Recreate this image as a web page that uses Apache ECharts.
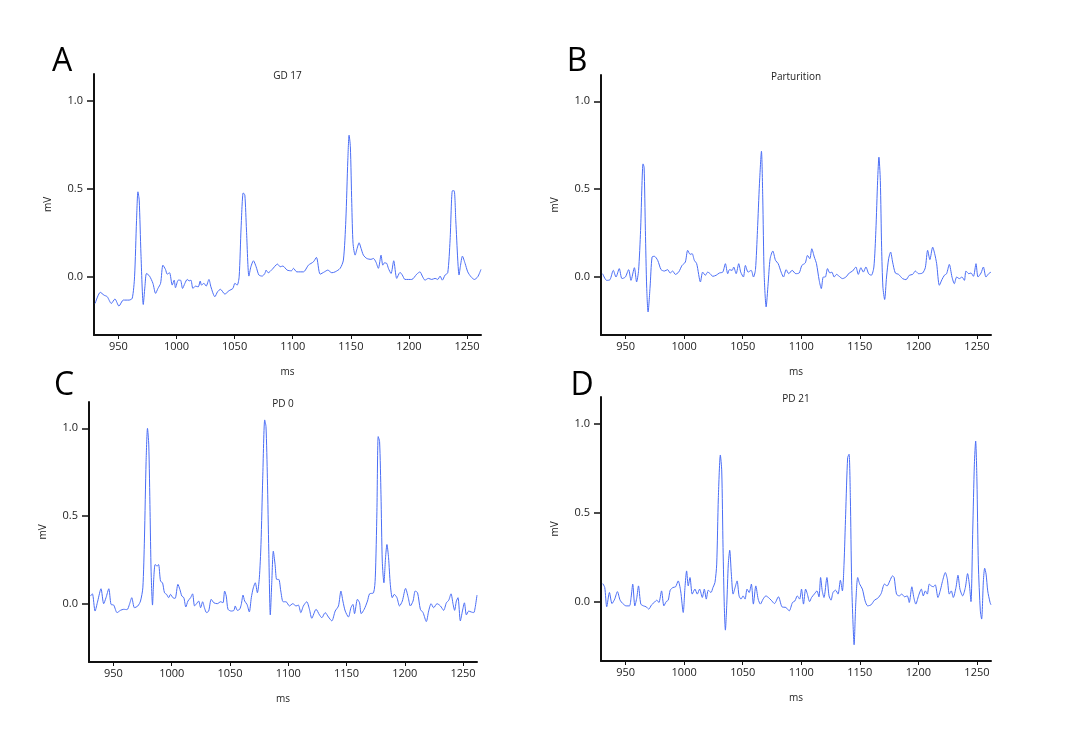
<!DOCTYPE html>
<html>
<head>
<meta charset="utf-8">
<title>ECG traces</title>
<script src="https://cdn.jsdelivr.net/npm/echarts@6/dist/echarts.min.js"></script>
<style>
  html, body { margin: 0; padding: 0; background: #fff; }
  #chart { width: 1071px; height: 735px; }
</style>
</head>
<body>
<div id="chart"></div>
<script>
// [ms, mV] samples
const gd17 = [
  [930, -0.151], [934.4, -0.088], [937.6, -0.104], [940.4, -0.113], [943.9, -0.151], [947, -0.126],
  [950.5, -0.166], [954.2, -0.132], [959.1, -0.132], [961.9, -0.122], [963.9, 0.0], [965.6, 0.32],
  [966.8, 0.482], [967.9, 0.435], [969.4, 0.13], [971.4, -0.157], [972.8, -0.057], [974.2, 0.019],
  [976.8, 0.004], [979.7, -0.037], [982, -0.094], [984, -0.066], [986.3, -0.037], [988.3, 0.066],
  [990.5, 0.042], [992, 0.015], [994, 0.023], [996.3, -0.047], [998, -0.019], [999.1, -0.062],
  [1001.5, -0.019], [1003.4, -0.019], [1005.2, -0.066], [1007.2, -0.037], [1009.2, -0.015], [1010.9, -0.023],
  [1012.4, -0.019], [1014.1, -0.066], [1016.3, -0.053], [1018.7, -0.057], [1020.4, -0.024], [1021.5, -0.047],
  [1023.6, -0.037], [1025.5, -0.053], [1027.9, -0.015], [1029.6, -0.057], [1033, -0.113], [1035.3, -0.085],
  [1037.8, -0.071], [1041.6, -0.098], [1045.1, -0.079], [1048.5, -0.066], [1050.2, -0.037], [1052.2, -0.047],
  [1053.9, 0.0], [1055.6, 0.283], [1057.4, 0.476], [1058.8, 0.463], [1060.2, 0.265], [1062.3, 0.004],
  [1064, 0.057], [1066.2, 0.091], [1068.5, 0.057], [1070.9, 0.01], [1073.7, 0.004], [1076, 0.019],
  [1077.1, 0.038], [1078.9, 0.023], [1082.3, 0.042], [1086.9, 0.072], [1089.2, 0.057], [1091.5, 0.061],
  [1095.2, 0.038], [1098.9, 0.034], [1100.6, 0.048], [1103.5, 0.028], [1109.2, 0.028], [1113.5, 0.066],
  [1117.8, 0.085], [1120.4, 0.11], [1123.6, 0.015], [1127.3, 0.028], [1130.2, 0.038], [1133.6, 0.023],
  [1136.5, 0.028], [1140.8, 0.048], [1143.6, 0.095], [1145.7, 0.321], [1147.4, 0.661], [1148.5, 0.803],
  [1149.6, 0.737], [1150.8, 0.416], [1151.9, 0.189], [1153.7, 0.123], [1155.4, 0.161], [1157.1, 0.193],
  [1158.8, 0.161], [1160.8, 0.123], [1163.7, 0.104], [1167.4, 0.099], [1169.4, 0.104], [1171.5, 0.085],
  [1173.7, 0.048], [1176, 0.123], [1177.5, 0.066], [1178.9, 0.079], [1180.9, 0.076], [1182.3, 0.048],
  [1184.6, 0.019], [1186.9, 0.091], [1189.5, -0.009], [1192.3, 0.025], [1194.3, 0.01], [1196.6, -0.015],
  [1202.4, -0.015], [1206.7, 0.015], [1209.5, 0.028], [1211.5, 0.004], [1213.8, -0.019], [1216.7, -0.009],
  [1219.6, -0.015], [1222.5, -0.009], [1224.8, -0.015], [1226.8, 0.004], [1228.7, -0.019], [1231.1, 0.01],
  [1233.4, 0.023], [1235.4, 0.208], [1237.4, 0.488], [1238.9, 0.488], [1240.3, 0.321], [1242, 0.095],
  [1243.1, 0.01], [1244.2, 0.057], [1246, 0.117], [1248.3, 0.076], [1250.6, 0.028], [1253.4, 0.0],
  [1256.3, -0.015], [1259.2, 0.0], [1262, 0.042]
];

const parturition = [
  [930.4, 0.019], [933.8, -0.019], [936.7, -0.015], [939.5, 0.038], [941.8, 0.0], [944.6, 0.048],
  [946.9, -0.009], [949.8, 0.0], [952.6, 0.042], [954.6, -0.019], [957.5, 0.053], [959.4, -0.028],
  [961.1, 0.038], [962.8, 0.265], [964.9, 0.644], [965.8, 0.625], [966.9, 0.265], [968, -0.057],
  [969.2, -0.199], [970.9, -0.057], [972.6, 0.114], [974.6, 0.118], [977.4, 0.095], [980.3, 0.042],
  [983.1, 0.034], [985.9, 0.042], [988, 0.023], [990.2, 0.034], [992.5, 0.015], [995.3, 0.028],
  [998.2, 0.066], [1001, 0.085], [1003, 0.152], [1005.1, 0.129], [1006.8, 0.133], [1008.7, 0.095],
  [1010.7, 0.076], [1013.9, -0.028], [1015.8, 0.028], [1018.1, 0.01], [1020.1, 0.028], [1022.2, 0.019],
  [1024.4, 0.004], [1027.3, 0.01], [1030.1, 0.023], [1033, 0.028], [1035.2, 0.076], [1037.2, 0.019],
  [1038.7, 0.042], [1041, 0.038], [1042.3, 0.057], [1044.4, 0.019], [1046.6, 0.076], [1048.3, 0.028],
  [1050.6, 0.0], [1052.3, 0.066], [1054.6, 0.028], [1057.2, 0.038], [1059.2, 0.0], [1060.9, 0.042],
  [1062.6, 0.265], [1064.3, 0.531], [1066, 0.716], [1067.1, 0.455], [1068.3, 0.019], [1070, -0.17],
  [1071.7, -0.038], [1073.4, 0.104], [1075.7, 0.148], [1078, 0.095], [1080.3, 0.076], [1082.8, 0.028],
  [1084.8, 0.0], [1087.1, 0.042], [1089.3, 0.019], [1092.2, 0.038], [1095.3, 0.019], [1098.2, 0.023],
  [1100.5, 0.066], [1103.4, 0.08], [1105.3, 0.123], [1107.3, 0.104], [1109, 0.161], [1111.1, 0.114],
  [1113, 0.076], [1115.3, -0.019], [1117.1, -0.066], [1118.8, 0.0], [1120.5, 0.0], [1122.4, 0.048],
  [1124.4, 0.023], [1126.1, 0.028], [1128.1, 0.0], [1130.1, 0.015], [1132.4, 0.004], [1135.2, -0.009],
  [1138.1, 0.0], [1141, 0.023], [1143.8, 0.034], [1146.6, 0.057], [1148.7, 0.015], [1150.9, 0.053],
  [1153, 0.028], [1155.2, 0.057], [1157.5, 0.019], [1159.8, 0.01], [1162, 0.057], [1163.7, 0.265],
  [1165.2, 0.549], [1166.3, 0.682], [1167.5, 0.549], [1168.6, 0.17], [1169.7, -0.057], [1171.2, -0.128],
  [1172.8, 0.0], [1174.6, 0.104], [1176.3, 0.142], [1178, 0.085], [1180.3, 0.023], [1183.1, 0.015],
  [1186.5, -0.009], [1189.4, -0.015], [1192.3, 0.01], [1195.1, 0.015], [1197.4, 0.034], [1200.2, 0.019],
  [1203.6, 0.023], [1205.9, 0.053], [1207.9, 0.152], [1209.8, 0.099], [1212.2, 0.17], [1213.9, 0.133],
  [1215.6, 0.076], [1217.9, -0.047], [1220.1, -0.015], [1222.2, 0.01], [1224.1, 0.019], [1226.4, 0.072],
  [1228.7, 0.0], [1230.7, -0.038], [1232.7, 0.0], [1235, -0.009], [1237.2, 0.0], [1239.3, -0.019],
  [1240.6, 0.034], [1243, 0.019], [1244.9, 0.023], [1247, 0.004], [1249.2, 0.076], [1250.9, 0.0],
  [1253.5, 0.023], [1255.5, 0.057], [1257.7, 0.0], [1260, 0.019], [1262, 0.028]
];

const pd0 = [
  [930.2, 0.045], [931.9, 0.058], [934.2, -0.04], [936.5, 0.017], [939.3, 0.087], [941.6, 0.002],
  [943.6, 0.036], [946, 0.087], [947.9, -0.002], [950.2, -0.006], [953.1, -0.049], [956, -0.036],
  [958.8, -0.03], [961.7, -0.032], [963.7, -0.002], [965.7, 0.036], [968, -0.021], [970.9, -0.011],
  [973.2, 0.017], [975.2, 0.092], [976.6, 0.376], [978, 0.811], [979.2, 1.0], [980.3, 0.906],
  [981.4, 0.527], [982.3, 0.187], [983.5, -0.006], [984.6, 0.149], [985.8, 0.225], [987.5, 0.216],
  [988.7, 0.225], [990.4, 0.13], [992.1, 0.121], [993.8, 0.064], [995.6, 0.055], [997.3, 0.036],
  [999, 0.055], [1001, 0.036], [1002.9, 0.032], [1005.3, 0.112], [1007, 0.083], [1008.7, 0.045],
  [1010.4, 0.036], [1012.1, -0.017], [1013.9, 0.017], [1016.2, 0.036], [1017.9, 0.058], [1019.6, -0.011],
  [1021.3, 0.002], [1023.1, 0.017], [1024.8, -0.021], [1026.5, 0.013], [1028.2, -0.024], [1029.9, -0.049],
  [1031.7, -0.04], [1033.9, 0.027], [1036.2, 0.007], [1039.1, 0.002], [1042, 0.013], [1044, 0.007],
  [1045.4, 0.074], [1046.8, 0.045], [1048.3, -0.03], [1051.1, -0.04], [1053.4, -0.036], [1054.5, -0.011],
  [1056.3, -0.036], [1058.3, -0.03], [1059.7, -0.002], [1061.2, 0.051], [1062.6, 0.017], [1064.6, -0.002],
  [1066.6, -0.045], [1068.3, 0.036], [1070, 0.092], [1071.7, 0.121], [1073.5, 0.064], [1075.2, 0.149],
  [1076.6, 0.339], [1078.1, 0.716], [1079.8, 1.048], [1080.9, 1.01], [1082.1, 0.716], [1083.3, 0.301],
  [1084.6, -0.062], [1085.8, 0.112], [1087.2, 0.301], [1088.7, 0.225], [1090.1, 0.14], [1091.9, 0.14],
  [1093.6, 0.074], [1095.6, 0.013], [1098.1, 0.013], [1101, -0.011], [1103.9, 0.002], [1106.7, -0.011],
  [1108.7, -0.006], [1110.8, -0.049], [1113, -0.011], [1115.9, 0.013], [1118.2, -0.03], [1120.2, -0.081],
  [1123.9, -0.03], [1126.8, -0.062], [1128.8, -0.078], [1131.7, -0.049], [1134.5, -0.074], [1137.4, -0.096],
  [1140.3, -0.04], [1143.1, -0.011], [1145.2, 0.074], [1146.9, 0.017], [1148.9, -0.04], [1151.7, -0.074],
  [1153.8, -0.021], [1155.5, -0.002], [1156.9, -0.055], [1159.4, 0.027], [1161.2, 0.007], [1162.6, -0.055],
  [1165.2, -0.03], [1168, 0.017], [1169.8, 0.058], [1173.2, 0.064], [1174.7, 0.149], [1176.1, 0.527],
  [1177.2, 0.953], [1178.4, 0.925], [1179.6, 0.622], [1180.7, 0.244], [1182.1, 0.121], [1183.5, 0.263],
  [1184.7, 0.339], [1186.1, 0.263], [1187.6, 0.112], [1189.3, 0.036], [1191, 0.055], [1193.3, 0.036],
  [1195.5, -0.011], [1197.9, 0.017], [1200.7, 0.089], [1203, 0.036], [1204.8, -0.011], [1207.1, 0.017],
  [1209, 0.074], [1211, 0.064], [1213.4, -0.03], [1215.7, -0.049], [1218.5, -0.1], [1220.5, -0.04],
  [1222.6, 0.002], [1224.8, -0.021], [1227.7, 0.002], [1230.6, -0.011], [1233.4, -0.036], [1235.7, 0.007],
  [1237.7, 0.021], [1239.7, 0.058], [1241.5, -0.002], [1242.8, -0.036], [1244.3, 0.017], [1245.7, 0.036],
  [1247.7, -0.096], [1249.5, -0.04], [1251.2, 0.007], [1252.9, -0.062], [1254.9, -0.04], [1256.9, -0.045],
  [1259.2, -0.049], [1260.4, -0.021], [1262, 0.051]
];

const pd21 = [
  [930.5, 0.104], [932.2, 0.082], [933.9, -0.026], [936.2, 0.054], [938.4, -0.008], [940.7, 0.017],
  [943, 0.059], [945.3, 0.011], [947.6, -0.008], [950.4, -0.021], [953.3, -0.021], [954.7, 0.026],
  [956.1, 0.101], [957.9, -0.021], [959.6, 0.026], [961, 0.091], [963, -0.011], [965.3, -0.021],
  [967.5, -0.026], [969.8, -0.039], [972.2, -0.015], [974.4, -0.002], [976.7, 0.011], [978.4, -0.002],
  [980.7, 0.063], [982.7, -0.021], [984.7, 0.003], [986.4, 0.011], [988.1, 0.067], [990.4, 0.082],
  [992.7, 0.086], [994.9, 0.119], [997, 0.063], [999.2, -0.058], [1000.7, 0.082], [1002.1, 0.175],
  [1003.5, 0.091], [1005, 0.138], [1006.9, 0.045], [1009.2, 0.073], [1011.2, 0.045], [1013.2, 0.073],
  [1015.5, 0.026], [1017.2, 0.073], [1018.9, 0.017], [1020.6, 0.067], [1022.9, 0.054], [1024.6, 0.082],
  [1026.3, 0.11], [1027.8, 0.213], [1029.2, 0.586], [1030.9, 0.825], [1032.1, 0.735], [1033.2, 0.306],
  [1034.3, -0.03], [1035.2, -0.157], [1036.4, -0.011], [1037.7, 0.213], [1038.9, 0.291], [1040.3, 0.157],
  [1041.8, 0.045], [1043.5, 0.082], [1045.2, 0.119], [1046.9, 0.035], [1048.6, 0.017], [1050.3, 0.035],
  [1052, 0.017], [1053.7, 0.073], [1055.5, 0.054], [1057.4, 0.101], [1059.1, -0.011], [1061.2, 0.091],
  [1063.2, 0.017], [1065.1, -0.011], [1067.4, 0.017], [1069.8, 0.035], [1071.9, 0.026], [1074.3, 0.011],
  [1077.1, -0.008], [1080.5, 0.03], [1083.5, -0.026], [1086.9, -0.03], [1089.7, -0.049], [1092.5, -0.002],
  [1094.6, 0.007], [1096.6, 0.035], [1098.6, 0.017], [1100.2, 0.073], [1101.9, -0.011], [1103.7, 0.073],
  [1105.1, 0.048], [1107.1, 0.003], [1108.8, 0.026], [1111.1, 0.045], [1113.4, 0.063], [1115.1, 0.03],
  [1116.5, 0.138], [1117.9, 0.063], [1119.4, 0.026], [1121.9, 0.138], [1123.7, 0.035], [1125.4, 0.011],
  [1127.1, 0.054], [1129.3, 0.067], [1131.4, 0.045], [1133.4, 0.123], [1135.1, 0.063], [1136.5, 0.213],
  [1137.9, 0.493], [1139.6, 0.81], [1140.8, 0.829], [1141.9, 0.586], [1143, 0.119], [1144.2, -0.123],
  [1145.1, -0.239], [1146.5, -0.011], [1148.2, 0.138], [1149.9, 0.101], [1152.2, 0.073], [1154.5, 0.007],
  [1156.7, -0.021], [1159.6, -0.015], [1162.5, 0.011], [1165.3, 0.022], [1168.2, 0.048], [1171, 0.101],
  [1173.3, 0.091], [1175.6, 0.119], [1177.9, 0.147], [1179.3, 0.138], [1181.3, 0.045], [1183.6, 0.035],
  [1185.8, 0.045], [1188.2, 0.03], [1190.5, 0.035], [1192.2, -0.002], [1194.4, 0.086], [1196.1, 0.026],
  [1197.8, -0.011], [1200.1, 0.035], [1202.5, 0.073], [1204.2, 0.035], [1205.9, 0.063], [1207.6, 0.045],
  [1209.3, 0.101], [1211, 0.091], [1212.7, 0.086], [1214.4, 0.097], [1216.7, 0.026], [1219, 0.073],
  [1220.5, 0.115], [1223, 0.166], [1224.7, 0.129], [1226.4, 0.045], [1228.1, 0.063], [1229.8, 0.026],
  [1232.1, 0.082], [1233.8, 0.151], [1235.5, 0.073], [1237.8, 0.035], [1240.1, 0.082], [1242, 0.16],
  [1243.5, 0.101], [1244.9, 0.003], [1246.4, 0.399], [1247.8, 0.773], [1248.9, 0.903], [1250, 0.679],
  [1251.2, 0.213], [1252.9, -0.049], [1254, -0.095], [1255.5, 0.119], [1256.6, 0.19], [1257.8, 0.157],
  [1259.2, 0.063], [1261.2, -0.002], [1262, -0.015]
];

const panelTitles = ['GD 17', 'Parturition', 'PD 0', 'PD 21'];
const panelLetters = ['A', 'B', 'C', 'D'];
const xTicks = [950, 1000, 1050, 1100, 1150, 1200, 1250];
const yTicks = [0, 0.5, 1.0];

const traces = [gd17, parturition, pd0, pd21];

// plot boxes
const grids = [
  { left: 94, top: 74, width: 387, height: 261 },
  { left: 601, top: 75, width: 390, height: 260 },
  { left: 89, top: 402, width: 388, height: 260 },
  { left: 601, top: 397, width: 390, height: 264 }
];
const letterPos = [[62, 62], [577, 62], [64, 386], [582, 386]];

const chart = echarts.init(document.getElementById('chart'));
const FONT = 'Open Sans';
const lineColor = '#4a6df5';

const xAxes = grids.map(function (g, i) {
  return {
    type: 'value',
    gridIndex: i,
    min: 929,
    max: 1262,
    name: 'ms',
    nameLocation: 'middle',
    nameGap: 32,
    nameTextStyle: { fontFamily: FONT, fontSize: 10, color: '#222' },
    axisLine: { onZero: false, lineStyle: { color: '#111', width: 2 } },
    axisTick: { show: true, length: 4, customValues: xTicks, lineStyle: { color: '#111' } },
    axisLabel: {
      customValues: xTicks, margin: 6, fontFamily: FONT, fontSize: 11, color: '#222',
      formatter: function (v) { return String(v); }
    },
    splitLine: { show: false }
  };
});

const yAxes = grids.map(function (g, i) {
  return {
    type: 'value',
    gridIndex: i,
    min: -0.33,
    max: 1.15,
    name: 'mV',
    nameLocation: 'middle',
    nameGap: 41,
    nameTextStyle: { fontFamily: FONT, fontSize: 10, color: '#222' },
    axisLine: { show: true, onZero: false, lineStyle: { color: '#111', width: 2 } },
    axisTick: { show: true, length: 7, customValues: yTicks, lineStyle: { color: '#111', width: 1.5 } },
    axisLabel: {
      customValues: yTicks, margin: 11, fontFamily: FONT, fontSize: 11, color: '#222',
      formatter: function (v) { return v.toFixed(1); }
    },
    splitLine: { show: false }
  };
});

const series = traces.map(function (d, i) {
  return {
    type: 'line',
    xAxisIndex: i,
    yAxisIndex: i,
    data: d,
    showSymbol: false,
    smooth: 0.25,
    lineStyle: { color: lineColor, width: 1 }
  };
});

const graphic = [];
grids.forEach(function (g, i) {
  graphic.push({
    type: 'text',
    x: g.left + g.width / 2,
    y: g.top + 2,
    style: {
      text: panelTitles[i], fill: '#222', font: '10px "' + FONT + '"',
      align: 'center', verticalAlign: 'middle', textAlign: 'center', textVerticalAlign: 'middle'
    }
  });
  graphic.push({
    type: 'text',
    x: letterPos[i][0],
    y: letterPos[i][1],
    style: {
      text: panelLetters[i], fill: '#000', font: '32px "' + FONT + '"',
      align: 'center', verticalAlign: 'middle', textAlign: 'center', textVerticalAlign: 'middle'
    }
  });
});

chart.setOption({
  animation: false,
  grid: grids,
  xAxis: xAxes,
  yAxis: yAxes,
  series: series,
  graphic: graphic
});
</script>
</body>
</html>
